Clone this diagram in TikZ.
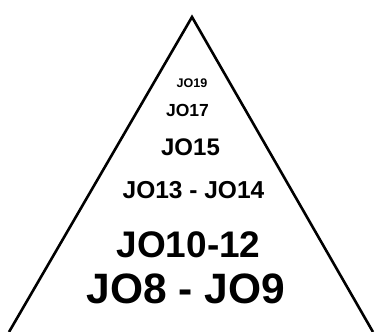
\documentclass[tikz,border=0pt]{standalone}
\usepackage{fontspec}
\setmainfont{Liberation Sans}
\usepackage{tikz}
\usetikzlibrary{positioning}

\begin{document}
\begin{tikzpicture}[
  x=1pt, y=-1pt,
  side/.style={line width=2.6pt, line join=miter, draw=black},
  lvl/.style={anchor=base, inner sep=0pt, font=\bfseries},
]
\useasboundingbox (0,0) rectangle (378,332);

\coordinate (top)   at (192,17);
\coordinate (left)  at (9,332);
\coordinate (right) at (373,332);

\node[lvl] (jo19)  at (192,87)  {\fontsize{12.5}{14}\selectfont JO19};
\node[lvl] (jo17)  at (187.5,116) {\fontsize{17.5}{20}\selectfont JO17};
\node[lvl] (jo15)  at (190.5,155) {\fontsize{24}{28}\selectfont JO15};
\node[lvl] (jo13)  at (193.5,198) {\fontsize{24.5}{28}\selectfont JO13 - JO14};
\node[lvl] (jo10)  at (188.5,257) {\fontsize{37}{42}\selectfont JO10-12};
\node[lvl] (jo8)   at (186,303) {\fontsize{42.5}{48}\selectfont JO8 - JO9};

\draw[side] (left) -- (top) -- (right);

\end{tikzpicture}
\end{document}
